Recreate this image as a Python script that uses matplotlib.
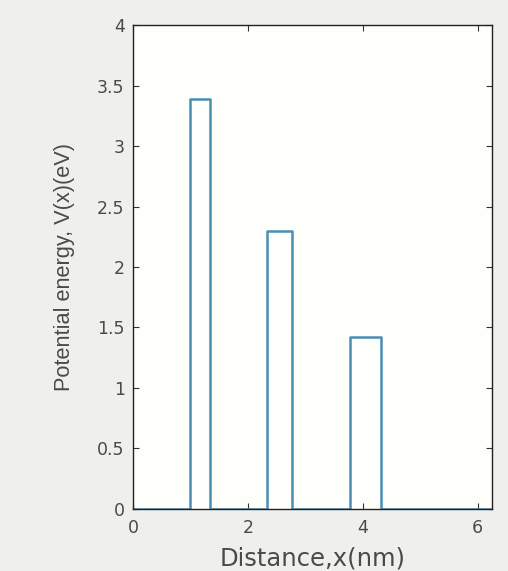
import matplotlib
matplotlib.use("Agg")
import matplotlib.pyplot as plt
import numpy as np

# Barrier edges (nm) and heights (eV)
barrier_left = [1.0, 2.33, 3.78]
barrier_right = [1.34, 2.77, 4.31]
barrier_height = [3.39, 2.30, 1.42]
x_end = 6.25

xticks = [0, 2, 4, 6]
yticks = [0, 0.5, 1, 1.5, 2, 2.5, 3, 3.5, 4]
yticklabels = ["0", "0.5", "1", "1.5", "2", "2.5", "3", "3.5", "4"]

# build step profile
xs = [0.0]
ys = [0.0]
for l, r, h in zip(barrier_left, barrier_right, barrier_height):
    xs += [l, l, r, r]
    ys += [0, h, h, 0]
xs.append(x_end)
ys.append(0.0)

plt.rcParams['font.family'] = ['DejaVu Sans']

fig = plt.figure(figsize=(5.08, 5.71), dpi=100, facecolor='#efefec')
ax = fig.add_axes([0.2618, 0.1086, 0.7067, 0.8476])
ax.set_facecolor('#fefefb')
ax.plot(xs, ys, color='#4a8db5', linewidth=1.8)

ax.set_xlim(0, x_end)
ax.set_ylim(0, 4)
ax.set_xticks(xticks)
ax.set_yticks(yticks)
ax.set_yticklabels(yticklabels)
ax.tick_params(direction='in', top=True, right=True, length=4, width=0.8,
               labelsize=12.5, labelcolor='#4a4a4a', colors='#333333')
ax.tick_params(axis='x', pad=7)
ax.tick_params(axis='y', pad=6)
for s in ax.spines.values():
    s.set_linewidth(1.0)
    s.set_color('#222222')
ax.set_xlabel('Distance,x(nm)', fontsize=17.5, color='#4a4a4a', labelpad=7)
ax.set_ylabel('Potential energy, V(x)(eV)', fontsize=15.7, color='#4a4a4a',
              labelpad=16, family=['Liberation Sans', 'DejaVu Sans'])

fig.savefig('out.png', dpi=100, facecolor=fig.get_facecolor())
